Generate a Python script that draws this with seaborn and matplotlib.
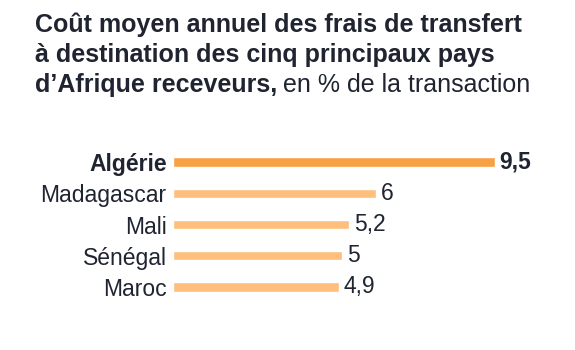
import matplotlib
matplotlib.use("Agg")
import matplotlib.pyplot as plt
import seaborn as sns
import pandas as pd

countries = ["Algérie", "Madagascar", "Mali", "Sénégal", "Maroc"]
values = [9.5, 6, 5.2, 5, 4.9]
labels = ["9,5", "6", "5,2", "5", "4,9"]
highlight = [True, False, False, False, False]

df = pd.DataFrame({"pays": countries, "valeur": values,
                   "hl": ["oui" if h else "non" for h in highlight]})

sns.set_theme(style="white")
plt.rcParams["font.family"] = ["Liberation Sans", "DejaVu Sans"]

TXT = "#1f2430"
FS = 16.5
fig = plt.figure(figsize=(5.75, 3.5), dpi=100)
W, H = 575, 350
left, right = 173, 495
top_c, bot_c = 162, 287
step = (bot_c - top_c) / 4
ax = fig.add_axes([left / W, 1 - (bot_c + step / 2) / H, (right - left) / W, (bot_c - top_c + step) / H])

sns.barplot(data=df, y="pays", x="valeur", hue="hl", order=countries,
            palette={"oui": "#f7a145", "non": "#fdbf7b"}, dodge=False,
            width=0.29, legend=False, ax=ax, saturation=1)
ax.set_xlim(0, 9.5)
ax.set_ylim(4.5, -0.5)
ax.set_xlabel("")
ax.set_ylabel("")
ax.set_xticks([])
for s in ax.spines.values():
    s.set_visible(False)
ax.tick_params(axis="y", length=0, pad=4.5)
ax.set_yticks(range(len(countries)))
ax.set_yticklabels(countries)
for t, h in zip(ax.get_yticklabels(), highlight):
    t.set_fontsize(FS)
    t.set_color(TXT)
    if h:
        t.set_fontweight("bold")
for i, (v, lab, h) in enumerate(zip(values, labels, highlight)):
    ax.text(v + 0.13, i, lab, va="center", ha="left", fontsize=FS, color=TXT,
            fontweight="bold" if h else "normal", clip_on=False)

TFS = 18
fig.text(35 / W, 1 - 32 / H, "Coût moyen annuel des frais de transfert", fontsize=TFS,
         fontweight="bold", color=TXT, va="baseline", ha="left")
fig.text(35 / W, 1 - 62 / H, "à destination des cinq principaux pays", fontsize=TFS,
         fontweight="bold", color=TXT, va="baseline", ha="left")
t3 = fig.text(35 / W, 1 - 92 / H, "d’Afrique receveurs,", fontsize=TFS,
              fontweight="bold", color=TXT, va="baseline", ha="left")
fig.canvas.draw()
bb = t3.get_window_extent()
fig.text(bb.x1 / W + 6 / W, 1 - 92 / H, "en % de la transaction", fontsize=TFS,
         color=TXT, va="baseline", ha="left")

fig.savefig("out.png", dpi=100, facecolor="white")
